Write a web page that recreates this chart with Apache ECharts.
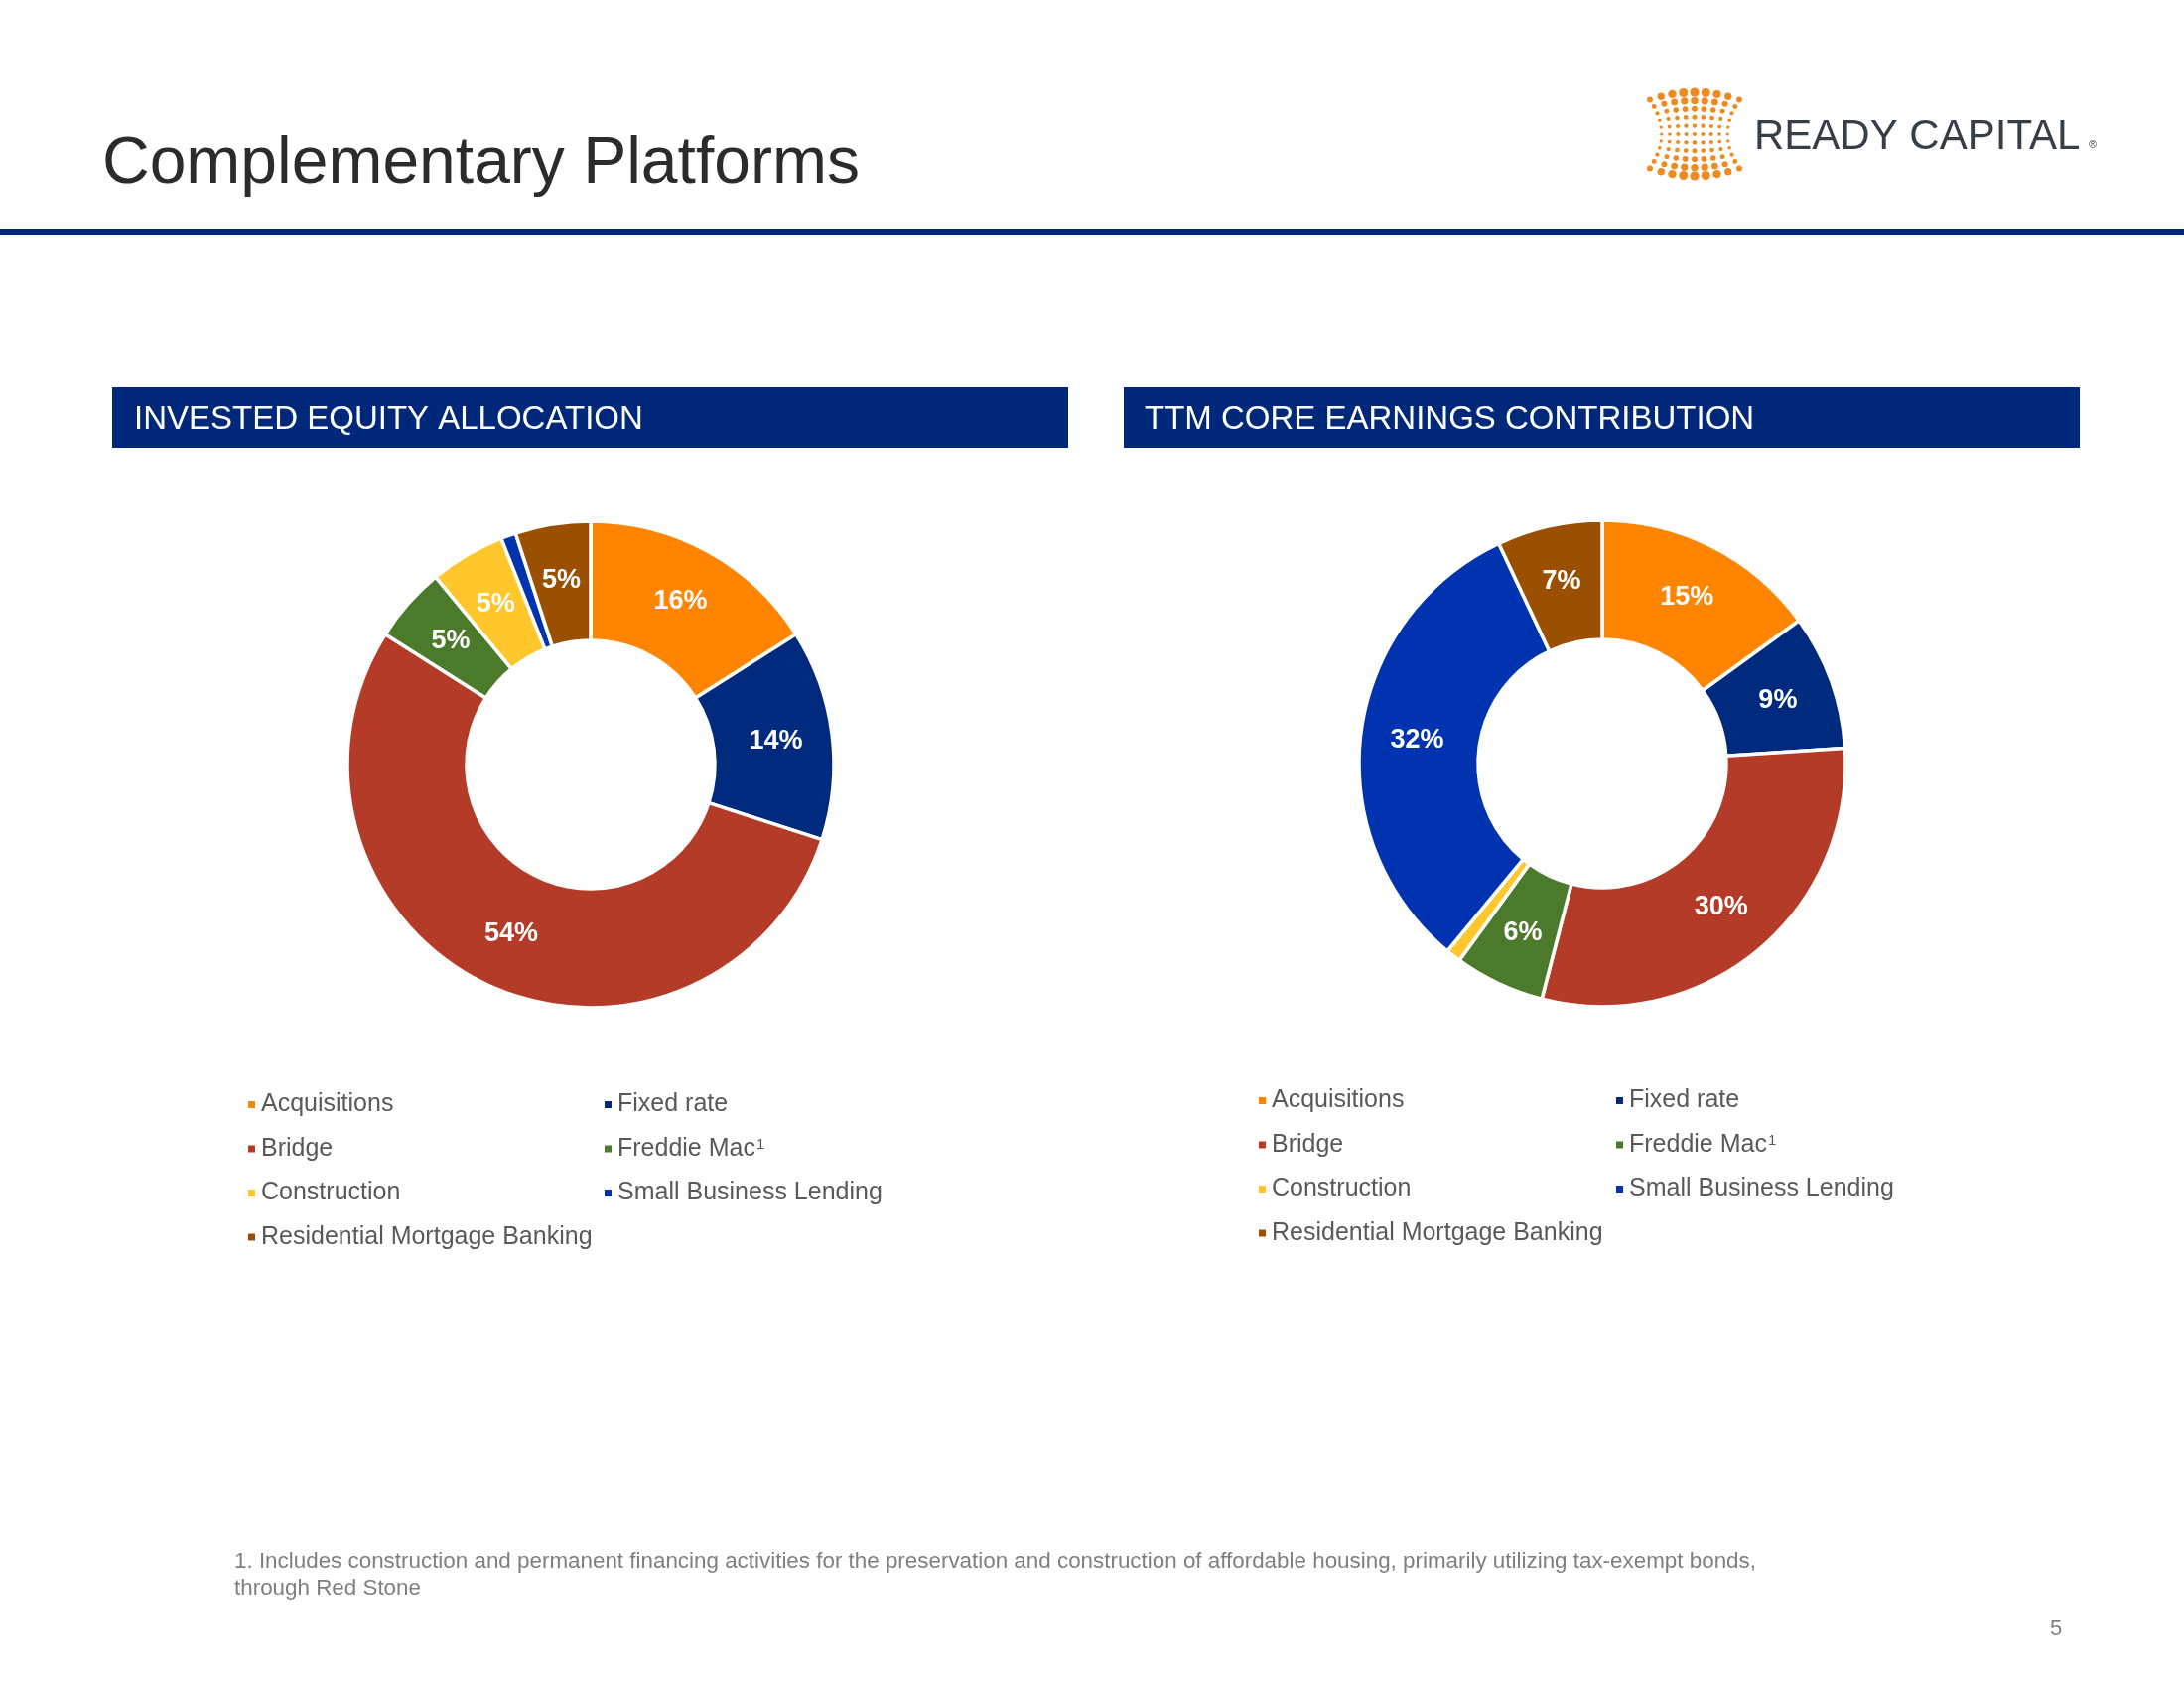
<!DOCTYPE html>
<html>
<head>
<meta charset="utf-8">
<script src="https://cdn.jsdelivr.net/npm/echarts@6/dist/echarts.min.js"></script>
<style>
  html, body { margin: 0; padding: 0; background: #ffffff; }
  #chart { width: 2200px; height: 1700px; }
</style>
</head>
<body>
<div id="chart"></div>
<script>
// ---------- data ----------
const categories = ['Acquisitions', 'Fixed rate', 'Bridge', 'Freddie Mac', 'Construction', 'Small Business Lending', 'Residential Mortgage Banking'];
const equityValues = [16, 14, 54, 5, 5, 1, 5];       // Invested equity allocation (%)
const earningsValues = [15, 9, 30, 6, 1, 32, 7];     // TTM core earnings contribution (%)
const legendColumn1 = ['Acquisitions', 'Bridge', 'Construction', 'Residential Mortgage Banking'];
const legendColumn2 = ['Fixed rate', 'Freddie Mac', 'Small Business Lending'];
const pageTitle = 'Complementary Platforms';
const leftHeader = 'INVESTED EQUITY ALLOCATION';
const rightHeader = 'TTM CORE EARNINGS CONTRIBUTION';
const footnoteLines = [
  '1. Includes construction and permanent financing activities for the preservation and construction of affordable housing, primarily utilizing tax-exempt bonds,',
  'through Red Stone'
];
const pageNumber = '5';

// ---------- styles ----------
const palette = ['#FF8500', '#002A7D', '#B33B27', '#4A7A2A', '#FFC72C', '#0033B0', '#9A5000'];
const NAVY = '#00287A';
const FONT = 'Liberation Sans';

const chart = echarts.init(document.getElementById('chart'), null, { renderer: 'canvas' });

function pieData(values) {
  return categories.map((c, i) => ({ name: c, value: values[i], itemStyle: { color: palette[i] } }));
}

function pieSeries(values, cx, cy) {
  return {
    type: 'pie',
    center: [cx, cy],
    radius: [125, 245],
    startAngle: 90,
    clockwise: true,
    avoidLabelOverlap: false,
    silent: true,
    itemStyle: { borderColor: '#ffffff', borderWidth: 3.5 },
    label: {
      show: true,
      position: 'inside',
      formatter: p => Math.round(p.percent) + '%',
      color: '#ffffff',
      fontFamily: FONT,
      fontWeight: 'bold',
      fontSize: 27
    },
    labelLine: { show: false },
    emphasis: { disabled: true },
    data: pieData(values)
  };
}

function legend(names, left, top) {
  return {
    data: names,
    orient: 'vertical',
    left: left,
    top: top,
    padding: 0,
    itemGap: 19.5,
    itemWidth: 9,
    itemHeight: 9,
    icon: 'rect',
    selectedMode: false,
    formatter: name => name === 'Freddie Mac' ? 'Freddie Mac{sup|1}' : name,
    textStyle: {
      fontFamily: FONT,
      fontSize: 25,
      lineHeight: 24,
      color: '#595959',
      rich: {
        sup: { fontFamily: FONT, fontSize: 15, lineHeight: 15, verticalAlign: 'top', color: '#595959', padding: [0, 0, 0, 1] }
      }
    }
  };
}

// logo dots (decorative)
const logoDots = [];
(function () {
  const cx = 1707, cy = 135, halfW = 45, halfH = 42;
  for (let j = -5; j <= 5; j++) {
    for (let i = -4; i <= 4; i++) {
      const u = i / 4, v = j / 5;
      const x = cx + u * halfW * (0.74 + 0.26 * v * v);
      const y = cy + v * halfH * (0.82 + 0.18 * (1 - u * u));
      const r = 1.6 + 2.5 * v * v * (1 - 0.45 * u * u) + 0.5 * (1 - u * u);
      logoDots.push({ type: 'circle', shape: { cx: x, cy: y, r: r }, style: { fill: '#F0891E' }, silent: true });
    }
  }
})();

const graphics = [
  // title
  { type: 'text', x: 103, y: 166, style: { text: pageTitle, font: '66px "' + FONT + '"', fill: '#2B2B2B', textVerticalAlign: 'middle' } },
  // header rule
  { type: 'rect', shape: { x: 0, y: 231, width: 2200, height: 6 }, style: { fill: NAVY } },
  // logo
  { type: 'group', children: logoDots },
  { type: 'text', x: 1767, y: 138, style: { text: 'READY CAPITAL', font: '42px "' + FONT + '"', fill: '#363F48', textVerticalAlign: 'middle' } },
  { type: 'text', x: 2104, y: 146, style: { text: '®', font: '11px "' + FONT + '"', fill: '#363F48', textVerticalAlign: 'middle' } },
  // section headers
  { type: 'rect', shape: { x: 113, y: 390, width: 963, height: 61 }, style: { fill: NAVY } },
  { type: 'text', x: 135, y: 423, style: { text: leftHeader, font: '33px "' + FONT + '"', fill: '#ffffff', textVerticalAlign: 'middle' } },
  { type: 'rect', shape: { x: 1132, y: 390, width: 963, height: 61 }, style: { fill: NAVY } },
  { type: 'text', x: 1153, y: 423, style: { text: rightHeader, font: '33px "' + FONT + '"', fill: '#ffffff', textVerticalAlign: 'middle' } },
  // footnote
  { type: 'text', x: 236, y: 1573, style: { text: footnoteLines[0], font: '22.4px "' + FONT + '"', fill: '#7F7F7F', textVerticalAlign: 'middle' } },
  { type: 'text', x: 236, y: 1600, style: { text: footnoteLines[1], font: '22.4px "' + FONT + '"', fill: '#7F7F7F', textVerticalAlign: 'middle' } },
  // page number
  { type: 'text', x: 2065, y: 1641, style: { text: pageNumber, font: '22px "' + FONT + '"', fill: '#7F7F7F', textVerticalAlign: 'middle' } }
];

const option = {
  animation: false,
  backgroundColor: '#ffffff',
  color: palette,
  legend: [
    legend(legendColumn1, 248, 1100),
    legend(legendColumn2, 607, 1100),
    legend(legendColumn1, 1266, 1096),
    legend(legendColumn2, 1626, 1096)
  ],
  series: [
    pieSeries(equityValues, 595, 770),
    pieSeries(earningsValues, 1614, 769)
  ],
  graphic: graphics
};

chart.setOption(option);
</script>
</body>
</html>
